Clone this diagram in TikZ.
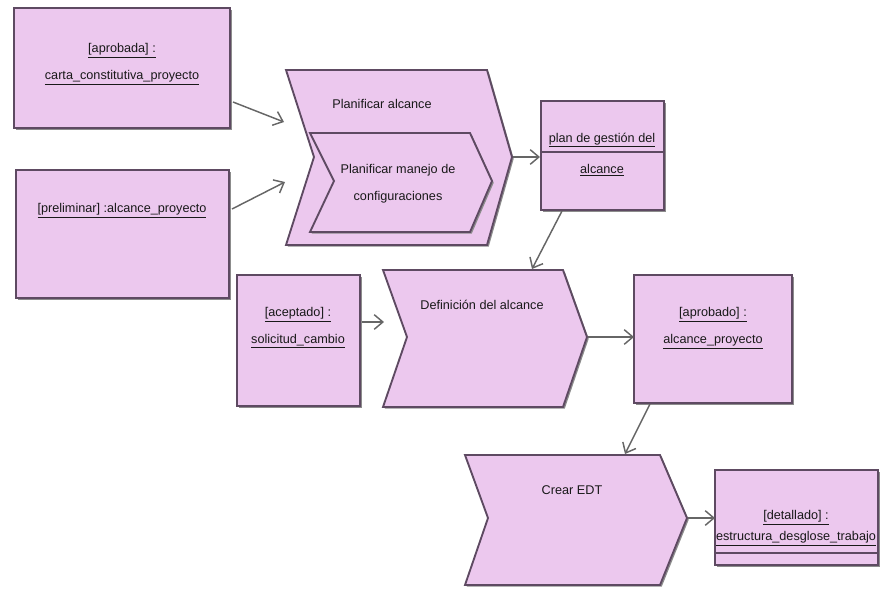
\documentclass[tikz,border=0pt]{standalone}
\usepackage{fontspec}
\setmainfont{Liberation Sans}
\usetikzlibrary{arrows.meta,shadows}
\definecolor{fillc}{HTML}{ECC8EE}
\definecolor{edgec}{HTML}{5E4A62}
\definecolor{arrc}{HTML}{666666}
\tikzset{
 obj/.style={draw=edgec, fill=fillc, line width=1.4pt, line join=miter,
   drop shadow={shadow xshift=1.3pt,shadow yshift=-1.3pt,fill=black!45,opacity=1}},
 lbl/.style={font=\fontsize{9.5}{20}\selectfont, text=black!90, align=center, inner sep=0pt},
 flow/.style={draw=arrc, line width=1.1pt, -{Straight Barb[length=6.5pt,width=11pt,line width=1.1pt]}},
}
\begin{document}
\begin{tikzpicture}[x=0.75pt,y=-0.75pt]
\useasboundingbox (0,0) rectangle (888,590);
% object boxes
\path[obj] (14,8) rectangle (230,128);
\node[lbl] (tA) at (122,64) {\underline{[aprobada] :}\\\underline{carta\_constitutiva\_proyecto}};
\path[obj] (16,170) rectangle (229,298);
\node[lbl] (tB) at (122,211) {\underline{[preliminar] :alcance\_proyecto}};
\path[obj] (541,101) rectangle (664,210);
\draw[edgec, line width=1pt] (541,152) -- (664,152);
\node[lbl] (tP1) at (602,140) {\underline{plan de gestión del}};
\node[lbl] (tP2) at (602,170) {\underline{alcance}};
\path[obj] (237,275) rectangle (360,406);
\node[lbl] (tS) at (298,328) {\underline{[aceptado] :}\\\underline{solicitud\_cambio}};
\path[obj] (634,275) rectangle (792,403);
\node[lbl] (tAp) at (713,328) {\underline{[aprobado] :}\\\underline{alcance\_proyecto}};
\path[obj] (715,470) rectangle (878,565);
\draw[edgec, line width=1pt] (715,553) -- (878,553);
\node[lbl, font=\fontsize{9.5}{16}\selectfont] (tD) at (796,528) {\underline{[detallado] :}\\\underline{estructura\_desglose\_trabajo}};
% chevrons
\path[obj] (286,70) -- (487,70) -- (512,157) -- (487,245) -- (286,245) -- (314,157) -- cycle;
\node[lbl] (tPA) at (382,104) {Planificar alcance};
\path[obj] (310,133) -- (470,133) -- (492,181) -- (470,232) -- (310,232) -- (334,181) -- cycle;
\node[lbl] (tPM) at (398,184) {Planificar manejo de\\configuraciones};
\path[obj] (383,270) -- (563,270) -- (587,337) -- (563,407) -- (383,407) -- (407,337) -- cycle;
\node[lbl] (tDA) at (482,305) {Definición del alcance};
\path[obj] (465,455) -- (660,455) -- (687,518) -- (660,585) -- (465,585) -- (488,518) -- cycle;
\node[lbl] (tCE) at (572,490) {Crear EDT};
% connector end points
\coordinate (aOut) at (233,102);
\coordinate (aIn) at (284,122);
\coordinate (bOut) at (232,209);
\coordinate (bIn) at (285,182);
\coordinate (paOut) at (513,157);
\coordinate (pgIn) at (540,157);
\coordinate (pgOut) at (562,211);
\coordinate (daIn) at (532,269);
\coordinate (sOut) at (362,322);
\coordinate (sIn) at (384,322);
\coordinate (daOut) at (588,337);
\coordinate (apIn) at (634,337);
\coordinate (apOut) at (650,404);
\coordinate (ceIn) at (625,454);
\coordinate (ceOut) at (688,518);
\coordinate (dIn) at (715,518);
\draw[flow] (aOut) -- (aIn);
\draw[flow] (bOut) -- (bIn);
\draw[flow] (paOut) -- (pgIn);
\draw[flow] (pgOut) -- (daIn);
\draw[flow] (sOut) -- (sIn);
\draw[flow] (daOut) -- (apIn);
\draw[flow] (apOut) -- (ceIn);
\draw[flow] (ceOut) -- (dIn);
\end{tikzpicture}
\end{document}
